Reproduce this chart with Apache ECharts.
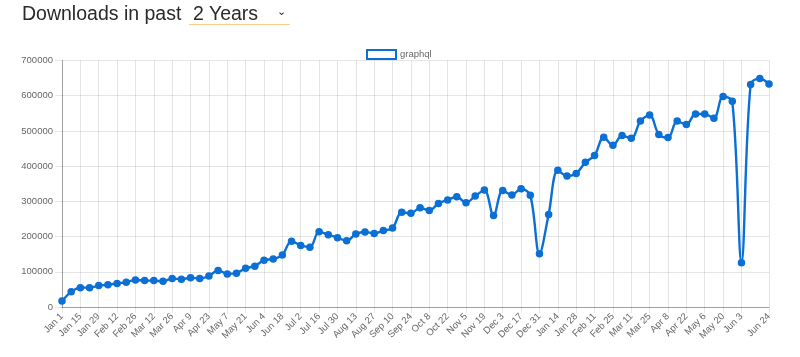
<!DOCTYPE html>
<html>
<head>
<meta charset="utf-8">
<script src="https://cdn.jsdelivr.net/npm/echarts@6/dist/echarts.min.js"></script>
<style>
  html, body { margin: 0; padding: 0; background: #fff; }
  #wrap { position: relative; width: 800px; height: 357px; overflow: hidden; }
  #chart { position: absolute; left: 0; top: 0; width: 800px; height: 357px; }
  #head { position: absolute; left: 22px; top: 2px; font-family: "Liberation Sans", Arial, sans-serif; font-size: 19.5px; color: #2a2a2a; white-space: nowrap; z-index: 2; }
  #sel { position: absolute; left: 167px; top: 0px; width: 101px; height: 22px; border-bottom: 1px solid #f8cf88; }
  #sel .t { position: absolute; left: 4px; top: 0; }
  #sel .c { position: absolute; left: 88px; top: 3px; font-size: 11px; }
</style>
</head>
<body>
<div id="wrap">
  <div id="chart"></div>
  <div id="head">Downloads in past<span id="sel"><span class="t">2 Years</span><span class="c">&#8964;</span></span></div>
</div>
<script>
const seriesName = 'graphql';
const weeks = [
  'Jan 1','Jan 8','Jan 15','Jan 22','Jan 29','Feb 5','Feb 12','Feb 19','Feb 26','Mar 5',
  'Mar 12','Mar 19','Mar 26','Apr 2','Apr 9','Apr 16','Apr 23','Apr 30','May 7','May 14',
  'May 21','May 28','Jun 4','Jun 11','Jun 18','Jun 25','Jul 2','Jul 9','Jul 16','Jul 23',
  'Jul 30','Aug 6','Aug 13','Aug 20','Aug 27','Sep 3','Sep 10','Sep 17','Sep 24','Oct 1',
  'Oct 8','Oct 15','Oct 22','Oct 29','Nov 5','Nov 12','Nov 19','Nov 26','Dec 3','Dec 10',
  'Dec 17','Dec 24','Dec 31','Jan 7','Jan 14','Jan 21','Jan 28','Feb 4','Feb 11','Feb 18',
  'Feb 25','Mar 4','Mar 11','Mar 18','Mar 25','Apr 1','Apr 8','Apr 15','Apr 22','Apr 29',
  'May 6','May 13','May 20','May 27','Jun 3','Jun 10','Jun 17','Jun 24'
];
const downloads = [
  17000, 43000, 55000, 55000, 61000, 63000, 67000, 70000, 77000, 75000,
  75000, 73000, 81000, 79000, 83000, 81000, 88000, 104000, 94000, 96000,
  110000, 116000, 133000, 136000, 148000, 187000, 175000, 170000, 214000, 205000,
  197000, 188000, 207000, 213000, 209000, 217000, 224000, 269000, 266000, 282000,
  274000, 294000, 304000, 313000, 296000, 315000, 332000, 260000, 331000, 318000,
  336000, 317000, 151000, 263000, 388000, 372000, 379000, 411000, 430000, 482000,
  459000, 487000, 479000, 528000, 545000, 490000, 481000, 528000, 518000, 548000,
  548000, 536000, 598000, 584000, 126000, 632000, 649000, 633000
];
const yTicks = [0, 100000, 200000, 300000, 400000, 500000, 600000, 700000];

const lastIdx = weeks.length - 1;
const showTick = function (i) { return (i % 2 === 0 && i <= lastIdx - 3) || i === lastIdx; };
const blue = '#0b6fd4';
const font = '"Liberation Sans", Arial, sans-serif';

const chart = echarts.init(document.getElementById('chart'), null, { renderer: 'canvas' });
chart.setOption({
  animation: false,
  textStyle: { fontFamily: font },
  legend: {
    data: [seriesName],
    left: 361, top: 44,
    itemWidth: 29, itemHeight: 9, itemGap: 0,
    icon: 'rect',
    itemStyle: { color: '#ffffff', borderColor: blue, borderWidth: 2 },
    textStyle: { fontSize: 9.5, color: '#666', fontFamily: font, padding: [0, 0, 0, -1] }
  },
  grid: { left: 62, right: 31, top: 60.5, bottom: 50, containLabel: false },
  xAxis: {
    type: 'category',
    data: weeks,
    boundaryGap: false,
    axisLine: { show: true, lineStyle: { color: 'rgba(0,0,0,0.3)', width: 1 } },
    axisTick: { show: true, interval: showTick, length: 6, lineStyle: { color: 'rgba(0,0,0,0.1)' } },
    axisLabel: { interval: showTick, rotate: 45, margin: 8, fontSize: 9.5, color: '#666', fontFamily: font },
    splitLine: { show: true, interval: showTick, lineStyle: { color: 'rgba(0,0,0,0.1)', width: 1 } }
  },
  yAxis: {
    type: 'value',
    min: yTicks[0], max: yTicks[yTicks.length - 1], interval: yTicks[1] - yTicks[0],
    axisLine: { show: true, lineStyle: { color: 'rgba(0,0,0,0.3)', width: 1 } },
    axisTick: { show: true, length: 7, lineStyle: { color: 'rgba(0,0,0,0.1)' } },
    axisLabel: { margin: 9, fontSize: 9.5, color: '#666', fontFamily: font, formatter: function (v) { return String(v); } },
    splitLine: { show: true, lineStyle: { color: 'rgba(0,0,0,0.1)', width: 1 } }
  },
  series: [{
    name: seriesName,
    type: 'line',
    data: downloads,
    smooth: 0.35,
    symbol: 'circle',
    symbolSize: 7.5,
    showSymbol: true,
    showAllSymbol: true,
    lineStyle: { color: blue, width: 2.4 },
    itemStyle: { color: blue, borderColor: blue, borderWidth: 0 }
  }]
});
</script>
</body>
</html>
